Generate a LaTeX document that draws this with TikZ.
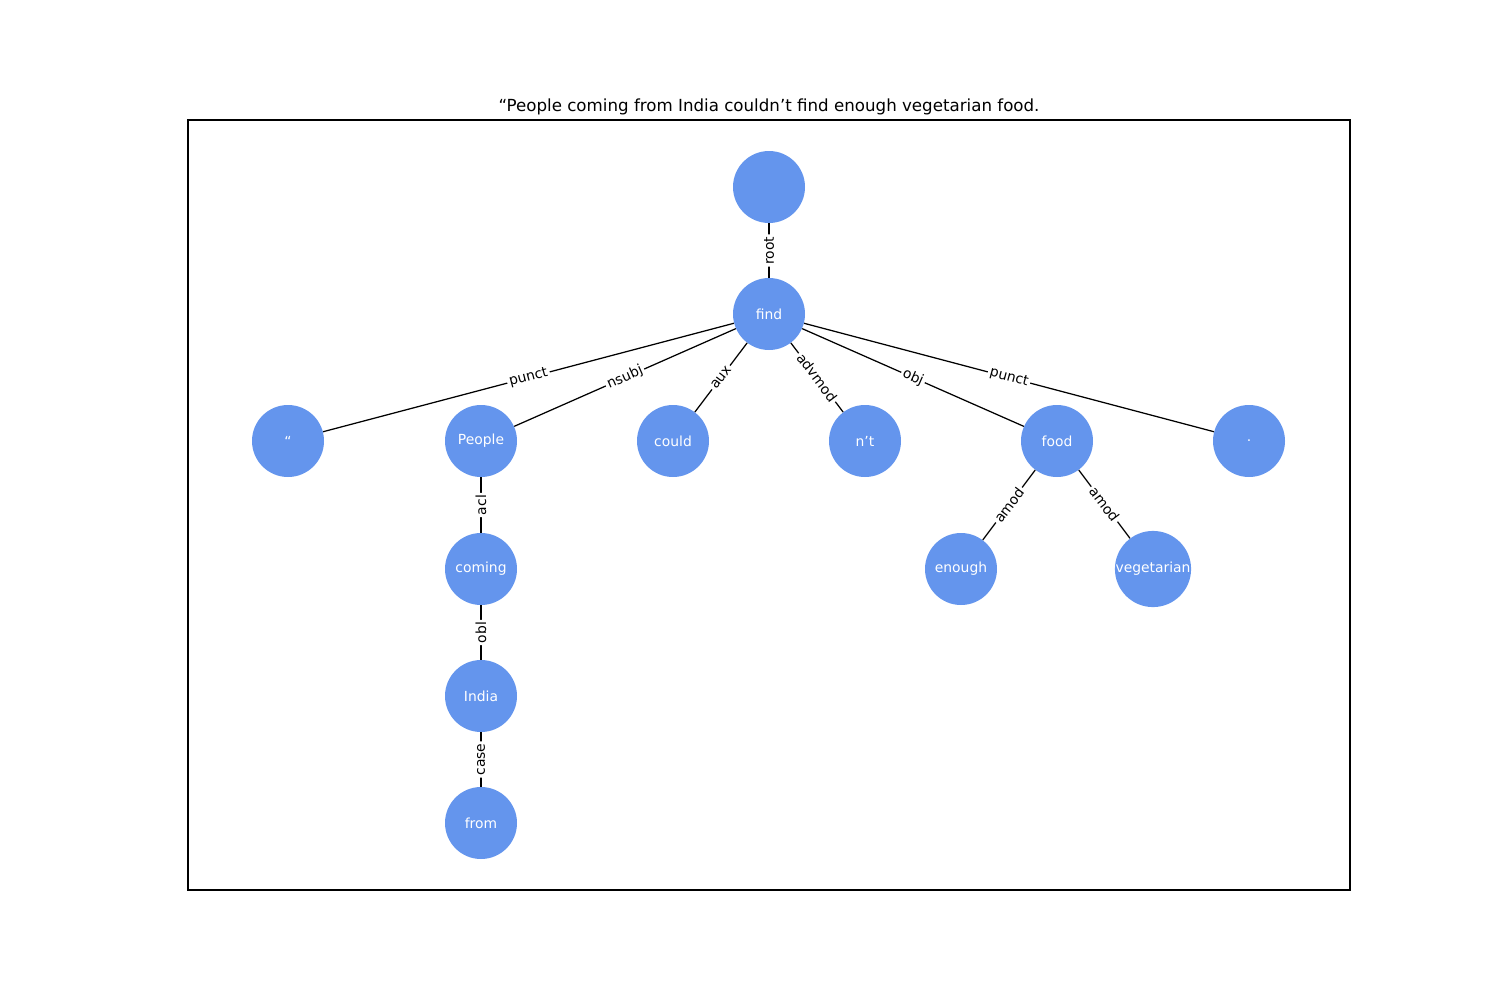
\documentclass[tikz,border=0pt]{standalone}
\usepackage{fontspec}
\setmainfont{DejaVu Sans}
\definecolor{nodeblue}{HTML}{6495ED}
\begin{document}
\begin{tikzpicture}[x=0.72pt,y=-0.72pt,
  word/.style={circle,fill=nodeblue,draw=none,minimum size=72*0.72pt,inner sep=0pt,text=white,font=\fontsize{10}{12}\selectfont},
  dep/.style={fill=white,inner sep=1.5pt,rounded corners=2pt,font=\fontsize{10}{12}\selectfont,text=black},
  link/.style={draw=black,line width=0.9pt}]
\useasboundingbox (0,0) rectangle (1500,1000);
\draw[line width=0.8pt] (188,120) rectangle (1350,890);
\node[anchor=base,font=\fontsize{12}{14}\selectfont] (title) at (769,111) {“People coming from India couldn’t find enough vegetarian food.};
% nodes
\node[word] (root) at (769,187) {};
\node[word] (find) at (769,314) {find};
\node[word] (q) at (288,441) {“};
\node[word] (people) at (481,441) {People};
\node[word] (could) at (673,441) {could};
\node[word] (nt) at (865,441) {n’t};
\node[word] (food) at (1057,441) {food};
\node[word] (dot) at (1249,441) {.};
\node[word] (coming) at (481,569) {coming};
\node[word] (india) at (481,696) {India};
\node[word] (from) at (481,823) {from};
\node[word] (enough) at (961,569) {enough};
\node[word] (veg) at (1153,569) {vegetarian};
% edges
\draw[link] (root) -- node[dep,rotate=90] {root} (find);
\draw[link] (find) -- node[dep,sloped] {punct} (q);
\draw[link] (find) -- node[dep,sloped] {nsubj} (people);
\draw[link] (find) -- node[dep,sloped] {aux} (could);
\draw[link] (find) -- node[dep,sloped] {advmod} (nt);
\draw[link] (find) -- node[dep,sloped] {obj} (food);
\draw[link] (find) -- node[dep,sloped] {punct} (dot);
\draw[link] (people) -- node[dep,rotate=90] {acl} (coming);
\draw[link] (coming) -- node[dep,rotate=90] {obl} (india);
\draw[link] (india) -- node[dep,rotate=90] {case} (from);
\draw[link] (food) -- node[dep,sloped] {amod} (enough);
\draw[link] (food) -- node[dep,sloped] {amod} (veg);
\end{tikzpicture}
\end{document}
